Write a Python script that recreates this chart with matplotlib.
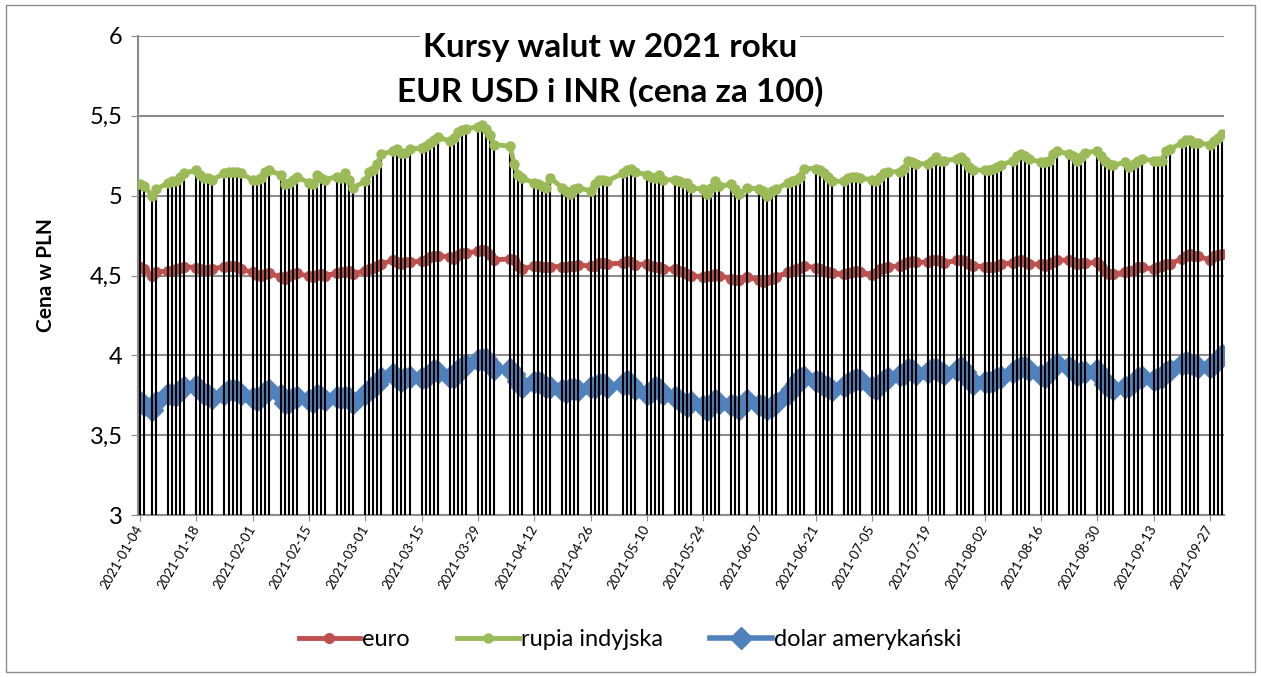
import pandas as pd
import numpy as np
import matplotlib
matplotlib.use('Agg')
import matplotlib.pyplot as plt
import matplotlib.dates as mdates
from matplotlib.ticker import FuncFormatter
from matplotlib.patches import Rectangle

plt.rcParams['font.family'] = ['Lato', 'DejaVu Sans']

# dni notowan NBP (bez swiat)
holidays = ['2021-01-06', '2021-04-05', '2021-05-03', '2021-06-03']
dates = pd.bdate_range('2021-01-04', '2021-09-30')
dates = dates[~dates.isin(pd.to_datetime(holidays))]

# kursy, tydzien po tygodniu
euro = [
    4.552, 4.54, 4.50, 4.52,
    4.53, 4.53, 4.54, 4.55, 4.556,
    4.55, 4.54, 4.535, 4.535, 4.54,
    4.556, 4.56, 4.56, 4.556, 4.54,
    4.52, 4.506, 4.50, 4.51, 4.515,
    4.49, 4.48, 4.50, 4.51, 4.515,
    4.494, 4.49, 4.506, 4.51, 4.50,
    4.515, 4.52, 4.52, 4.527, 4.51,
    4.53, 4.54, 4.55, 4.56, 4.57,
    4.598, 4.583, 4.573, 4.583, 4.583,
    4.59, 4.598, 4.615, 4.625, 4.625,
    4.615, 4.604, 4.63, 4.64, 4.64,
    4.652, 4.66, 4.656, 4.63, 4.598,
    4.604, 4.598, 4.56, 4.54,
    4.56, 4.56, 4.556, 4.552, 4.556,
    4.556, 4.556, 4.56, 4.56, 4.565,
    4.56, 4.56, 4.577, 4.58, 4.573,
    4.577, 4.59, 4.583, 4.567,
    4.573, 4.56, 4.556, 4.552, 4.54,
    4.54, 4.53, 4.52, 4.51, 4.50,
    4.49, 4.494, 4.50, 4.51, 4.50,
    4.48, 4.47, 4.47, 4.49,
    4.47, 4.46, 4.47, 4.48, 4.49,
    4.52, 4.53, 4.54, 4.55, 4.56,
    4.55, 4.54, 4.53, 4.52, 4.515,
    4.51, 4.515, 4.52, 4.527, 4.52,
    4.506, 4.515, 4.54, 4.55, 4.556,
    4.56, 4.573, 4.583, 4.59, 4.583,
    4.583, 4.594, 4.598, 4.59, 4.58,
    4.594, 4.598, 4.59, 4.573, 4.56,
    4.556, 4.552, 4.552, 4.56, 4.573,
    4.577, 4.59, 4.594, 4.583, 4.573,
    4.569, 4.56, 4.573, 4.583, 4.598,
    4.594, 4.583, 4.573, 4.577, 4.577,
    4.583, 4.56, 4.53, 4.51, 4.51,
    4.52, 4.527, 4.535, 4.552, 4.552,
    4.54, 4.552, 4.56, 4.569, 4.573,
    4.604, 4.625, 4.635, 4.625, 4.62,
    4.598, 4.62, 4.63, 4.635,
]

rupia = [
    5.07, 5.06, 5.00, 5.04,
    5.08, 5.09, 5.09, 5.12, 5.14,
    5.16, 5.13, 5.11, 5.11, 5.10,
    5.14, 5.15, 5.15, 5.15, 5.14,
    5.10, 5.10, 5.11, 5.15, 5.16,
    5.13, 5.07, 5.08, 5.10, 5.12,
    5.08, 5.07, 5.13, 5.11, 5.10,
    5.12, 5.11, 5.14, 5.10, 5.05,
    5.09, 5.15, 5.16, 5.20, 5.26,
    5.28, 5.29, 5.27, 5.27, 5.29,
    5.30, 5.31, 5.33, 5.35, 5.37,
    5.34, 5.36, 5.40, 5.41, 5.42,
    5.43, 5.44, 5.42, 5.38, 5.32,
    5.31, 5.20, 5.13, 5.11,
    5.08, 5.07, 5.06, 5.05, 5.11,
    5.05, 5.03, 5.01, 5.04, 5.05,
    5.03, 5.07, 5.10, 5.10, 5.09,
    5.14, 5.16, 5.17, 5.15,
    5.13, 5.12, 5.11, 5.13, 5.10,
    5.10, 5.09, 5.08, 5.08, 5.05,
    5.04, 5.01, 5.05, 5.09, 5.06,
    5.07, 5.04, 5.01, 5.05,
    5.04, 5.03, 5.00, 5.03, 5.04,
    5.08, 5.09, 5.10, 5.12, 5.17,
    5.17, 5.16, 5.14, 5.12, 5.09,
    5.09, 5.11, 5.12, 5.12, 5.11,
    5.10, 5.09, 5.12, 5.14, 5.15,
    5.15, 5.17, 5.22, 5.21, 5.20,
    5.20, 5.22, 5.24, 5.22, 5.22,
    5.23, 5.24, 5.22, 5.18, 5.16,
    5.16, 5.16, 5.17, 5.18, 5.19,
    5.22, 5.25, 5.26, 5.25, 5.23,
    5.21, 5.21, 5.22, 5.26, 5.28,
    5.26, 5.25, 5.22, 5.24, 5.27,
    5.28, 5.25, 5.22, 5.20, 5.19,
    5.21, 5.18, 5.20, 5.22, 5.23,
    5.22, 5.22, 5.22, 5.28, 5.29,
    5.33, 5.35, 5.35, 5.33, 5.33,
    5.32, 5.34, 5.36, 5.385,
]

dolar = [
    3.705, 3.69, 3.656, 3.705,
    3.76, 3.75, 3.75, 3.78, 3.80,
    3.81, 3.78, 3.76, 3.75, 3.73,
    3.76, 3.78, 3.785, 3.777, 3.76,
    3.73, 3.72, 3.74, 3.77, 3.78,
    3.75, 3.70, 3.71, 3.73, 3.74,
    3.72, 3.71, 3.75, 3.74, 3.72,
    3.74, 3.73, 3.74, 3.73, 3.70,
    3.76, 3.78, 3.80, 3.82, 3.86,
    3.885, 3.855, 3.84, 3.855, 3.865,
    3.855, 3.865, 3.885, 3.906, 3.896,
    3.865, 3.865, 3.906, 3.927, 3.94,
    3.969, 3.98, 3.98, 3.948, 3.917,
    3.917, 3.885, 3.84, 3.80,
    3.83, 3.83, 3.82, 3.80, 3.80,
    3.78, 3.77, 3.79, 3.79, 3.785,
    3.80, 3.80, 3.82, 3.82, 3.80,
    3.82, 3.84, 3.82, 3.79,
    3.76, 3.77, 3.80, 3.79, 3.76,
    3.74, 3.72, 3.70, 3.68, 3.71,
    3.68, 3.656, 3.69, 3.72, 3.70,
    3.69, 3.68, 3.667, 3.72,
    3.69, 3.68, 3.667, 3.68, 3.70,
    3.76, 3.79, 3.82, 3.855, 3.865,
    3.84, 3.83, 3.81, 3.80, 3.78,
    3.81, 3.827, 3.84, 3.85, 3.845,
    3.80, 3.79, 3.82, 3.845, 3.855,
    3.875, 3.885, 3.917, 3.906, 3.885,
    3.896, 3.917, 3.917, 3.896, 3.885,
    3.906, 3.927, 3.896, 3.855, 3.82,
    3.83, 3.83, 3.84, 3.855, 3.865,
    3.896, 3.917, 3.927, 3.927, 3.906,
    3.875, 3.865, 3.896, 3.927, 3.948,
    3.927, 3.906, 3.875, 3.896, 3.896,
    3.906, 3.865, 3.82, 3.80, 3.79,
    3.80, 3.81, 3.83, 3.855, 3.865,
    3.845, 3.855, 3.865, 3.896, 3.906,
    3.948, 3.96, 3.948, 3.94, 3.927,
    3.927, 3.948, 3.969, 4.00,
]

y_ticks = [3, 3.5, 4, 4.5, 5, 5.5, 6]


def plot_chart():
    fig = plt.figure(figsize=(12.61, 6.77), dpi=100)
    fig.patches.append(Rectangle((0.005, 0.008), 0.99, 0.984, transform=fig.transFigure,
                                 fill=False, edgecolor='#8c8c8c', lw=1))

    ax = fig.add_axes([138 / 1261, 1 - 515 / 677, (1224 - 138) / 1261, (515 - 36) / 677])

    # linie pionowe od najwyzszej serii do osi
    top = np.maximum.reduce([np.array(euro), np.array(rupia), np.array(dolar)])
    ax.vlines(dates, 3, top, color='black', lw=1.5, zorder=3)

    ax.plot(dates, euro, color='#C0504D', lw=3.5, marker='o', ms=7, label='euro', zorder=2)
    ax.plot(dates, rupia, color='#9BBB59', lw=3.5, marker='o', ms=6.5, label='rupia indyjska', zorder=4)
    ax.plot(dates, dolar, color='#4F81BD', lw=4, marker='D', ms=11, label='dolar amerykański', zorder=2)

    ax.set_ylim(3, 6)
    ax.set_yticks(y_ticks)
    ax.yaxis.set_major_formatter(FuncFormatter(lambda v, p: f'{v:g}'.replace('.', ',')))
    ax.set_xlim(dates[0] - pd.Timedelta(hours=12), dates[-1] + pd.Timedelta(hours=12))
    ax.set_xticks(pd.date_range('2021-01-04', '2021-09-30', freq='14D'))
    ax.xaxis.set_major_formatter(mdates.DateFormatter('%Y-%m-%d'))
    plt.setp(ax.get_xticklabels(), rotation=60, ha='right', va='center', rotation_mode='anchor', fontsize=9.5)
    ax.tick_params(axis='y', labelsize=17, length=5, color='#8c8c8c', pad=6)
    ax.tick_params(axis='x', length=4, color='#8c8c8c', pad=4)

    ax.grid(axis='y', color='#8c8c8c', lw=1.5, zorder=0)
    ax.set_axisbelow(True)
    for s in ['top', 'right']:
        ax.spines[s].set_visible(False)
    for s in ['left', 'bottom']:
        ax.spines[s].set_color('#8c8c8c')
        ax.spines[s].set_linewidth(1.5)

    ax.set_ylabel('Cena w PLN', fontsize=15, fontweight='bold', labelpad=24)

    fig.text(610 / 1261, 1 - 48 / 677, 'Kursy walut w 2021 roku', ha='center', va='center',
             fontsize=24, fontweight='bold', zorder=10,
             bbox=dict(facecolor='white', edgecolor='none', pad=2))
    fig.text(610 / 1261, 1 - 92 / 677, 'EUR USD i INR (cena za 100)', ha='center', va='center',
             fontsize=24, fontweight='bold', zorder=10,
             bbox=dict(facecolor='white', edgecolor='none', pad=2))

    fig.legend(loc='center', bbox_to_anchor=(630 / 1261, 1 - 640 / 677), ncol=3, frameon=False,
               fontsize=17, handlelength=2.6, columnspacing=2.0, handletextpad=0.1, numpoints=1)

    fig.savefig('out.png', dpi=100)
    plt.close(fig)


if __name__ == "__main__":
    plot_chart()
